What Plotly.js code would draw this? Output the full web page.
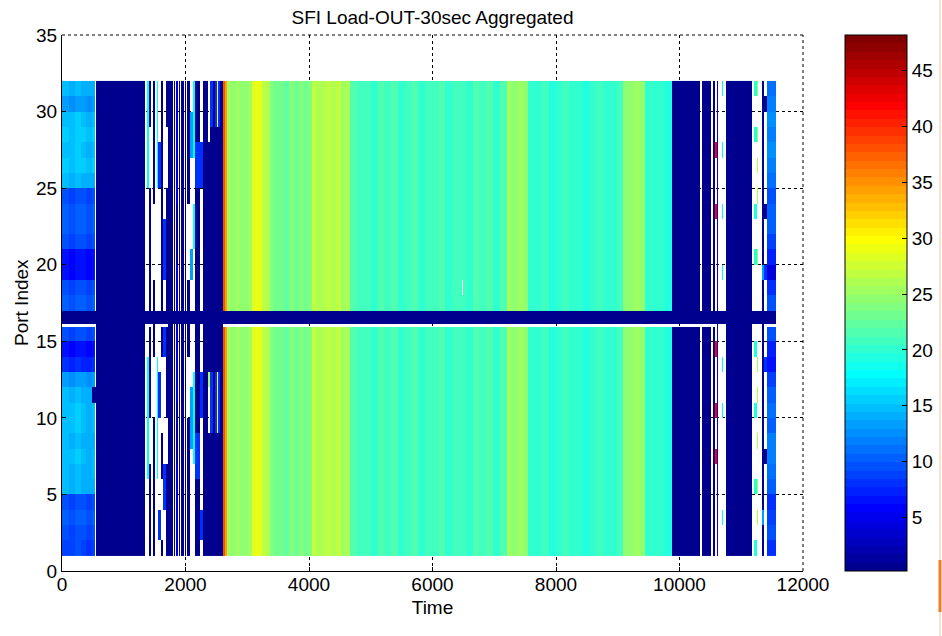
<!DOCTYPE html>
<html><head><meta charset="utf-8">
<script src="https://cdn.plot.ly/plotly-3.0.1.min.js"></script>
<style>html,body{margin:0;padding:0;background:#fff}#chart{width:942px;height:636px}</style>
</head><body><div id="chart"></div>
<script>
// ---------------- data ----------------
// Port Index cell boundaries (row 16 is split: thin empty strip + dark band)
const portEdges = [1,2,3,4,5,6,7,8,9,10,11,12,13,14,15,15.93,16.12,17,18,19,20,21,22,23,24,25,26,27,28,29,30,31,32];

// Time column boundaries
const timeEdges = [
  0,110,210,300,390,480,528,555,
  1344,
  1377,1401,1441,1474,1506,1534,1560,1598,1640,1684,1721,1797,1814,1830,1846,1883,1900,1916,1935,1976,1992,2008,2029,2073,2117,2154,2235,2288,
  2369,2397,2450,2478,2505,2531,2558,2612,
  2640,2675,
  2740,2810,2880,2950,3010,3072,
  3130,3190,3240,
  3300,3368,
  3440,3520,3600,3680,3760,3840,3920,3990,4044,
  4120,4200,4280,4360,4440,4520,4600,4665,
  4780,4890,5000,5110,5220,5330,5440,5550,5660,5770,5880,5990,6100,6210,6320,6430,6470,6490,6540,6650,6760,6870,6980,7090,7201,
  7290,7380,7470,7551,
  7660,7770,7880,7990,8100,8210,8320,8430,8540,8650,8760,8870,8980,9090,
  9180,9270,9360,9441,
  9550,9660,9770,9873,
  10332,10359,10510,10538,10575,10602,10628,10683,10709,10748,11179,11211,11250,11276,11331,11368,11412,11558
];

// row pattern used by each column
const colProfile = (
  "LEFT LEFT LEFT LEFT LEFT LEFTN LEDGE " +
  "D " +
  "W WC DW1 W DW2 W WC WB1 DW3 WB2 DW1 D W D W NB W D W D W D W DW2 WL WC2 DB WB1 " +
  "D KA KB D KB KE KB D " +
  "V V " +
  "V V V V V V " +
  "V V V " +
  "V V " +
  "V V V V V V V V V " +
  "V V V V V V V V " +
  "V V V V V V V V V V V V V V V V V GN V V V V V V V " +
  "V V V V " +
  "V V V V V V V V V V V V V V " +
  "V V V V " +
  "V V V V " +
  "DG W DG W DG WR NL W WCd W D W WCl WY W B3 WB3 RIGHT"
).split(" ");

// load level of each column (offset for the per-port profiles)
const colLevel = [
  0.3,-0.3,0.5,0,-0.4,0.2,0,
  0,
  0,0,0,0,0,0,0,0,0,0,0,0,0,0,0,0,0,0,0,0,0,0,0,0,0,0,0,0,
  0,0,0,0,0,0,0,0,
  38.0,34.0,
  25.2,24.4,25.0,24.2,24.8,25.2,
  28.6,29.0,28.2,
  27.0,26.4,
  23.6,22.8,23.4,22.6,23.8,23.0,23.6,22.8,24.0,
  26.6,25.8,26.4,27.0,26.0,26.6,25.6,26.2,
  21.4,20.6,21.0,20.2,21.2,20.6,21.6,20.4,20.8,21.4,20.2,21.0,20.6,21.2,20.4,20.8,21.0,20.8,21.0,20.4,21.2,20.6,21.4,20.4,21.6,
  25.4,24.6,25.2,24.8,
  20.4,19.8,20.6,19.6,20.2,20.8,20.0,20.4,19.6,20.2,20.6,20.0,20.4,21.0,
  24.8,24.2,25.0,24.4,
  20.4,19.8,20.2,19.6,
  0,0,0,0,0,0,0,0,0,0,0,0,0,0,0,0,0,0
];

// per-port values (top row 31 ... row 17 | band, strip | row 15 ... row 1)
const leftPorts  = [14.2,13.0,14.8,15.2,14.8,15.2,14.2,9.4,10.0,10.0,9.4,6.4,6.2,9.4,10.0, 0.3,null, 9.4,6.4,7.6,13.0,14.2,14.8,14.8,14.2,14.8,14.4,14.2,9.4,10.0,9.4,8.8];
const leftNotch  = [14.2,13.0,14.8,15.2,14.8,15.2,14.2,9.4,10.0,10.0,9.4,6.4,6.2,9.4,10.0, 0.3,null, 9.4,6.4,7.6,13.0,0.3,14.8,14.8,14.2,14.8,14.4,14.2,9.4,10.0,9.4,8.8];
const rightPorts = [11.2,11.8,12.4,11.8,12.4,11.8,11.2,9.4,10.6,10.0,8.8,7.0,4.0,8.2,9.4, 0.3,null, 9.4,7.0,6.4,8.8,10.6,11.2,10.6,11.8,11.8,11.2,10.6,8.2,8.8,9.4,8.2];

// coded rows: v=column level, d=idle, .=no sample, c=cyan, k=pale cyan, s=sky, b=blue, n=navy, y=yellow, g=lime, r=red
const codeLetters = ["d","c","k","s","b","n","y","g","r"];
const codeLoads   = [0.3,17.8,19.0,13.0,8.2,3.4,29.8,26.0,42.0];
const rowsV   = "vvvvvvvvvvvvvvv|d.|vvvvvvvvvvvvvvv";
const rowsGN  = "vvvvvvvvvvvvv.v|d.|vvvvvvvvvvvvvvv";
const rowsD   = "ddddddddddddddd|dd|ddddddddddddddd";
const rowsDG  = "ddddddddddddddd|d.|ddddddddddddddd";
const rowsW   = "...............|d.|...............";
const rowsLE  = "...............|d.|....d..........";
const rowsWC  = "ccccccc........|d.|..cccccccc.....";
const rowsWC2 = "ccccc...ccc....|d.|...cccccc......";
const rowsDW1 = "ddd....dddddddd|d.|dddddd...dddddd";
const rowsDW2 = "dddddddd.....dd|dd|dd....ddddddddd";
const rowsDW3 = "ddddddddddddddd|d.|dd.....ddd....d";
const rowsWB1 = "....bbb........|d.|...bbb......bb.";
const rowsWB2 = ".........bbbb..|d.|bb.......bbb...";
const rowsWL  = "..sss......ss..|d.|....ssss.......";
const rowsNB  = "nnnnnnnnddddnnn|dd|nnnnnddddnnnnnn";
const rowsDB  = "ddddbbbdddddddd|dd|dddddddbbbddddd";
const rowsKA  = "....ddddddddddd|dd|dddg...dddddddd";
const rowsKB  = "bbbdddddddddddd|dd|dddbbbbdddddddd";
const rowsKE  = "yyydddddddddddd|dd|dddyyyydddddddd";
const rowsWR  = "....r...r......|d.|.r...r..r......";
const rowsNL  = "nnnnnnnnnnnnnnn|dd|nnnnnnnnnnnnnnn";
const rowsWCd = "c...c...c...c..|d.|..c..c......c..";
const rowsWCl = "k..k....k..k...|d.|.k...k....k...k";
const rowsWY  = "g..g.g.g...g...|d.|..g.g..g..g.g..";
const rowsB3  = "ddddddddddddsdd|dd|ddddddddddddsdd";
const rowsWB3 = ".d......d...b..|d.|..b.....d......";

const xTicks = [0,2000,4000,6000,8000,10000,12000];
const yTicks = [0,5,10,15,20,25,30,35];
const cbTicks = [5,10,15,20,25,30,35,40,45];

// ---------------- build the grid ----------------
const profileTable = {
  LEFT:leftPorts, LEFTN:leftNotch, RIGHT:rightPorts,
  V:rowsV, GN:rowsGN, D:rowsD, DG:rowsDG, W:rowsW, LEDGE:rowsLE, WC:rowsWC, WC2:rowsWC2,
  DW1:rowsDW1, DW2:rowsDW2, DW3:rowsDW3, WB1:rowsWB1, WB2:rowsWB2, WL:rowsWL, NB:rowsNB, DB:rowsDB,
  KA:rowsKA, KB:rowsKB, KE:rowsKE, WR:rowsWR, NL:rowsNL, WCd:rowsWCd, WCl:rowsWCl, WY:rowsWY, B3:rowsB3, WB3:rowsWB3
};
const IDLE = 0.3;
function columnCells(c){
  const src = profileTable[colProfile[c]], lvl = colLevel[c];
  if (Array.isArray(src)) return src.map(v => v === null ? null : (v <= IDLE ? v : v + lvl));
  return src.replace(/\|/g,"").split("").map(ch => ch === "." ? null : ch === "v" ? lvl : codeLoads[codeLetters.indexOf(ch)]);
}
const nCols = timeEdges.length - 1, nRows = portEdges.length - 1;
if (colProfile.length !== nCols || colLevel.length !== nCols) throw new Error("column count mismatch " + nCols + " " + colProfile.length + " " + colLevel.length);
const zGrid = [];
for (let j = 0; j < nRows; j++) zGrid.push(new Array(nCols));
for (let c = 0; c < nCols; c++){
  const cells = columnCells(c);
  if (cells.length !== nRows) throw new Error("row count mismatch in column " + c + " (" + colProfile[c] + ")");
  for (let j = 0; j < nRows; j++) zGrid[j][c] = cells[nRows - 1 - j];
}

// MATLAB jet(64), stepped
function jetSteps(){
  const m = 64, n = 16, u = [];
  for (let i = 1; i <= n; i++) u.push(i/n);
  for (let i = 0; i < n-1; i++) u.push(1);
  for (let i = n; i >= 1; i--) u.push(i/n);
  const R = new Array(m).fill(0), G = new Array(m).fill(0), B = new Array(m).fill(0);
  for (let k = 1; k <= u.length; k++){
    const gi = 8 + k, ri = gi + n, bi = gi - n;
    if (ri >= 1 && ri <= m) R[ri-1] = u[k-1];
    if (gi >= 1 && gi <= m) G[gi-1] = u[k-1];
    if (bi >= 1 && bi <= m) B[bi-1] = u[k-1];
  }
  const cs = [];
  for (let i = 0; i < m; i++){
    const col = "rgb(" + Math.round(R[i]*255) + "," + Math.round(G[i]*255) + "," + Math.round(B[i]*255) + ")";
    cs.push([i/m, col]); cs.push([(i+1)/m, col]);
  }
  return cs;
}

const FONT = "Liberation Sans, Arial, Helvetica, sans-serif";
const L = 62, R = 139, T = 35, Bm = 65, W = 942, H = 636;
const pw = W - L - R, ph = H - T - Bm;

const trace = {
  type: "heatmap", x: timeEdges, y: portEdges, z: zGrid,
  zmin: 0.2, zmax: 48.2, colorscale: jetSteps(), zsmooth: false, hoverongaps: false,
  colorbar: {
    x: (845 - L) / pw, xanchor: "left", xpad: 0, y: 0.5, yanchor: "middle", ypad: 0,
    len: 1, lenmode: "fraction", thickness: 62, thicknessmode: "pixels",
    outlinewidth: 1, outlinecolor: "#000",
    tickvals: cbTicks, ticks: "inside", ticklen: 5, tickcolor: "#000",
    tickfont: {family: FONT, size: 19, color: "#000"}
  }
};

const axisCommon = {
  showgrid: true, gridcolor: "#000", griddash: "dot", gridwidth: 1,
  showline: true, linecolor: "#000", linewidth: 1, zeroline: false,
  ticks: "inside", ticklen: 4, tickcolor: "#000",
  tickfont: {family: FONT, size: 19, color: "#000"}
};

const layout = {
  width: W, height: H,
  margin: {l: L, r: R, t: T, b: Bm, autoexpand: false},
  paper_bgcolor: "#fff", plot_bgcolor: "#fff",
  font: {family: FONT, color: "#000"},
  title: {text: "SFI Load-OUT-30sec Aggregated", font: {family: FONT, size: 19, color: "#000"},
          x: 0.5, xref: "paper", y: 1 - 17/H, yref: "container", yanchor: "middle"},
  xaxis: Object.assign({}, axisCommon, {range: [0, 12000], tickvals: xTicks, ticktext: xTicks.map(String),
          ticklabelstandoff: -4,
          title: {text: "Time", standoff: 6, font: {family: FONT, size: 19, color: "#000"}}}),
  yaxis: Object.assign({}, axisCommon, {range: [0, 35], tickvals: yTicks, ticktext: yTicks.map(String)}),
  annotations: [
    {text: "Port Index", textangle: -90, xref: "paper", yref: "paper", x: (21 - L)/pw, y: 0.5,
     xanchor: "center", yanchor: "middle", showarrow: false, font: {family: FONT, size: 19, color: "#000"}}
  ],
  shapes: [
    {type: "line", xref: "paper", yref: "paper", x0: 0, x1: 1, y0: 1, y1: 1, line: {color: "#000", width: 1, dash: "dot"}},
    {type: "line", xref: "paper", yref: "paper", x0: 1, x1: 1, y0: 0, y1: 1, line: {color: "#000", width: 1, dash: "dot"}},
    {type: "line", xref: "paper", yref: "paper", x0: (940 - L)/pw, x1: (940 - L)/pw, y0: -Bm/ph, y1: 1 + T/ph, line: {color: "#fbe3cf", width: 2}},
    {type: "line", xref: "paper", yref: "paper", x0: (940 - L)/pw, x1: (940 - L)/pw, y0: -(612-571)/ph, y1: -(560-571)/ph, line: {color: "#ef7d22", width: 3}}
  ]
};

Plotly.newPlot("chart", [trace], layout, {displayModeBar: false, staticPlot: true});
</script>
</body></html>
